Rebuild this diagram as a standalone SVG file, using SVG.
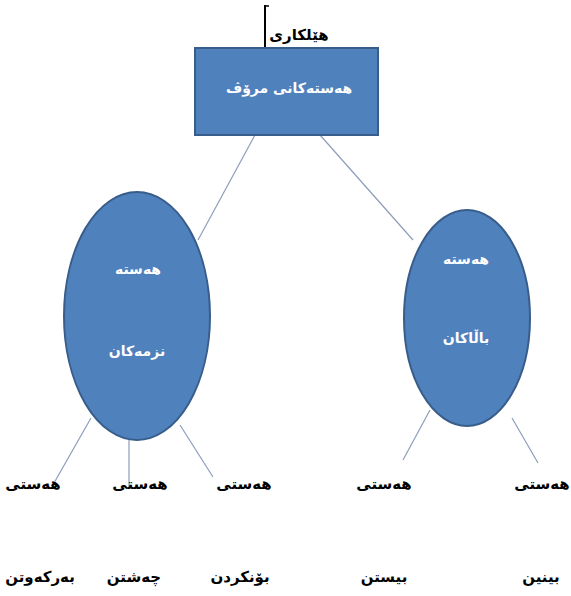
<svg xmlns="http://www.w3.org/2000/svg" width="571" height="596" viewBox="0 0 571 596">
<style>
.shape{fill:#4F81BD;stroke:#385D8A;stroke-width:2}
.conn line{stroke:#8C9DBA;stroke-width:1.2}
.w{fill:#FFFFFF;font-family:"DejaVu Sans",sans-serif;font-size:14px;font-weight:bold;text-anchor:middle}
.b{fill:#000000;font-family:"DejaVu Sans",sans-serif;font-size:15px;font-weight:bold;text-anchor:middle}
</style>
<rect width="571" height="596" fill="#FFFFFF"/>
<g id="title">
<line x1="265" y1="5" x2="265" y2="48" stroke="#000" stroke-width="2"/>
<line x1="265" y1="6" x2="269" y2="6" stroke="#000" stroke-width="1.5"/>
<text class="b" x="299" y="40" direction="rtl">هێلکاری</text>
</g>
<g class="conn" id="connectors">
<line x1="255" y1="135" x2="198" y2="240"/>
<line x1="320" y1="135" x2="413" y2="240"/>
<line x1="91" y1="418" x2="54" y2="483"/>
<line x1="129" y1="440" x2="129" y2="488"/>
<line x1="180" y1="425" x2="213" y2="477"/>
<line x1="430" y1="410" x2="403" y2="460"/>
<line x1="512" y1="418" x2="538" y2="463"/>
</g>
<g id="root">
<rect class="shape" x="195" y="48" width="183" height="87"/>
<text class="w" x="289" y="93" direction="rtl">هەستەکانی مرۆڤ</text>
</g>
<g id="lower">
<ellipse class="shape" cx="137" cy="316" rx="73" ry="124"/>
<text class="w" x="138" y="274" direction="rtl">هەستە</text>
<text class="w" x="137" y="356" direction="rtl">نزمەکان</text>
</g>
<g id="higher">
<ellipse class="shape" cx="467" cy="318" rx="63" ry="108"/>
<text class="w" x="466" y="264" direction="rtl">هەستە</text>
<text class="w" x="466" y="343" direction="rtl">باڵاکان</text>
</g>
<g id="touch">
<text class="b" x="33" y="489" direction="rtl">هەستی</text>
<text class="b" x="40" y="582" direction="rtl">بەرکەوتن</text>
</g>
<g id="taste">
<text class="b" x="140" y="489" direction="rtl">هەستی</text>
<text class="b" x="134" y="582" direction="rtl">چەشتن</text>
</g>
<g id="smell">
<text class="b" x="244" y="489" direction="rtl">هەستی</text>
<text class="b" x="240" y="582" direction="rtl">بۆنکردن</text>
</g>
<g id="hearing">
<text class="b" x="384" y="489" direction="rtl">هەستی</text>
<text class="b" x="384" y="582" direction="rtl">بیستن</text>
</g>
<g id="seeing">
<text class="b" x="542" y="489" direction="rtl">هەستی</text>
<text class="b" x="541" y="582" direction="rtl">بینین</text>
</g>
</svg>
